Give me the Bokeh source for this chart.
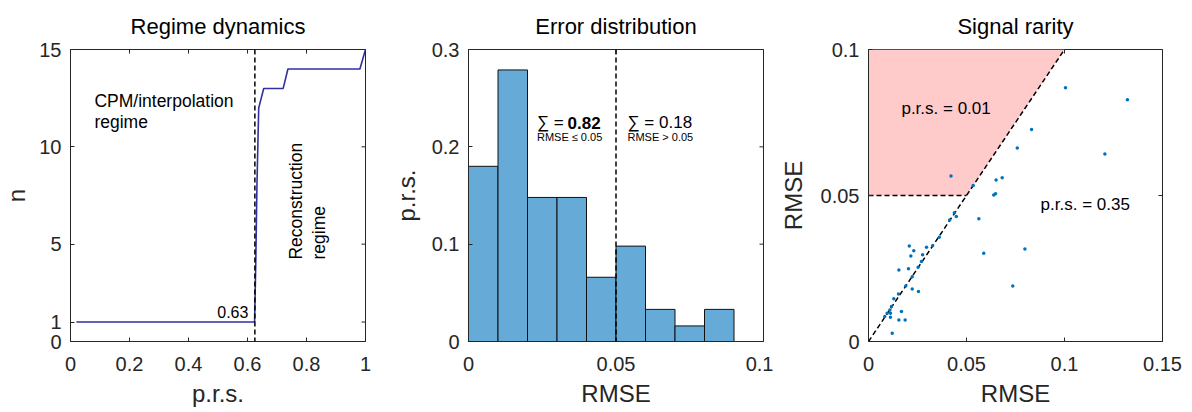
import numpy as np
from bokeh.plotting import figure
from bokeh.models import Range1d, FixedTicker, Label, Span
from bokeh.layouts import row
from bokeh.embed import file_html
from bokeh.resources import INLINE

# ---------------- data ----------------
# Panel 1: regime dynamics
prs_curve = [0.02, 0.624, 0.628, 0.632, 0.638, 0.655, 0.721, 0.737, 0.981, 1.0]
n_curve = [1, 1, 4, 8, 12, 13, 13, 14, 14, 15]
prs_threshold = 0.625
p1_xticks = [0, 0.2, 0.4, 0.6, 0.8, 1]
p1_yticks = [0, 1, 5, 10, 15]

# Panel 2: error distribution
bin_edges = [0.0, 0.01, 0.02, 0.03, 0.04, 0.05, 0.06, 0.07, 0.08, 0.09]
bin_prs = [0.180, 0.279, 0.148, 0.148, 0.066, 0.098, 0.033, 0.016, 0.033]
rmse_threshold = 0.05
p2_xticks = [0, 0.05, 0.1]
p2_yticks = [0, 0.1, 0.2, 0.3]

# Panel 3: signal rarity
rmse_x = [0.1005, 0.1321, 0.0832, 0.0759, 0.1206, 0.0421, 0.0682, 0.0651, 0.0534,
          0.0648, 0.0639, 0.0438, 0.0448, 0.0414, 0.0563, 0.0588, 0.0798, 0.0736,
          0.0361, 0.0327, 0.0296, 0.0208, 0.0231, 0.0216, 0.0276, 0.0270, 0.0253,
          0.0204, 0.0155, 0.0223, 0.0190, 0.0223, 0.0255, 0.0153, 0.0129, 0.0168,
          0.0117, 0.0109, 0.0095, 0.0083, 0.0112, 0.0112, 0.0155, 0.0187, 0.0121]
rmse_y = [0.0869, 0.0828, 0.0726, 0.0663, 0.0642, 0.0567, 0.0561, 0.0553, 0.0534,
          0.0506, 0.0502, 0.0441, 0.0428, 0.0416, 0.0420, 0.0302, 0.0317, 0.0190,
          0.0357, 0.0328, 0.0323, 0.0327, 0.0311, 0.0293, 0.0297, 0.0274, 0.0254,
          0.0249, 0.0245, 0.0222, 0.0190, 0.0180, 0.0171, 0.0163, 0.0146, 0.0103,
          0.0120, 0.0108, 0.0097, 0.0086, 0.0097, 0.0083, 0.0074, 0.0074, 0.0028]
region_x = [0.0, 0.05, 0.1, 0.0]
region_y = [0.05, 0.05, 0.1, 0.1]
diag_x = [0.0, 0.1]
diag_y = [0.0, 0.1]
p3_xticks = [0, 0.05, 0.1, 0.15]
p3_yticks = [0, 0.05, 0.1]

FONT = "Liberation Sans"
AX_COLOR = "#262626"


def fmt(v):
    return f"{v:g}"


def make_fig(xr, yr, xticks, yticks, title, xlabel, ylabel, fw, bl, br,
             ylab_standoff, valign, tstand):
    p = figure(frame_width=fw, frame_height=292,
               x_range=Range1d(*xr), y_range=Range1d(*yr),
               output_backend="svg", toolbar_location=None,
               min_border_left=bl, min_border_right=br,
               min_border_top=48, min_border_bottom=64)
    p.title.text = title
    p.title.align = "center"
    p.title.vertical_align = valign
    p.title.text_font = FONT
    p.title.text_font_size = "22px"
    p.title.text_font_style = "normal"
    p.title.text_color = "#000000"
    p.title.standoff = tstand
    p.xgrid.visible = False
    p.ygrid.visible = False
    p.outline_line_color = AX_COLOR
    p.outline_line_width = 1
    p.background_fill_color = "white"
    p.border_fill_color = "white"

    p.xaxis.ticker = FixedTicker(ticks=xticks)
    p.yaxis.ticker = FixedTicker(ticks=yticks)
    p.xaxis.major_label_overrides = {v: fmt(v) for v in xticks}
    p.yaxis.major_label_overrides = {v: fmt(v) for v in yticks}
    p.xaxis.axis_label = xlabel
    p.yaxis.axis_label = ylabel
    for ax in (p.xaxis[0], p.yaxis[0]):
        ax.major_tick_in = 4
        ax.major_tick_out = 0
        ax.minor_tick_line_color = None
        ax.axis_line_color = AX_COLOR
        ax.major_tick_line_color = AX_COLOR
        ax.major_label_text_font = FONT
        ax.major_label_text_font_size = "20px"
        ax.major_label_text_color = AX_COLOR
        ax.axis_label_text_font = FONT
        ax.axis_label_text_font_size = "24px"
        ax.axis_label_text_font_style = "normal"
        ax.axis_label_text_color = AX_COLOR
    p.xaxis.major_label_standoff = 15
    p.xaxis.axis_label_standoff = 6
    p.yaxis.major_label_standoff = 9
    p.yaxis.axis_label_standoff = ylab_standoff

    # mirrored inward ticks on top and right edges (box on)
    p.scatter(xticks, [yr[1]] * len(xticks), marker="dash", angle=np.pi / 2,
              size=8, line_color=AX_COLOR, line_width=1)
    p.scatter([xr[1]] * len(yticks), yticks, marker="dash",
              size=8, line_color=AX_COLOR, line_width=1)
    return p


def add_text(p, x, y, text, size="17px", style="normal", angle=0.0):
    p.add_layout(Label(x=x, y=y, text=text, angle=angle,
                       text_align="left", text_baseline="middle",
                       text_font=FONT, text_font_size=size,
                       text_font_style=style, text_color="black"))


# ---------------- panel 1 ----------------
p1 = make_fig((0, 1), (0, 15), p1_xticks, p1_yticks, "Regime dynamics",
              "p.r.s.", "n", 295, 70, 23, 6, "top", 18)
p1.line(prs_curve, n_curve, line_color="#3030a0", line_width=1.6)
p1.add_layout(Span(location=prs_threshold, dimension="height",
                   line_color="black", line_dash="5 3", line_width=1.5))
p1.add_layout(Label(x=0.603, y=1.54, text="0.63",
                    text_align="right", text_baseline="middle",
                    text_font=FONT, text_font_size="16px", text_color="black"))
add_text(p1, 0.081, 12.37, "CPM/interpolation", size="17.5px")
add_text(p1, 0.081, 11.29, "regime", size="17.5px")
add_text(p1, 0.766, 4.21, "Reconstruction", size="17.5px", angle=np.pi / 2)
add_text(p1, 0.841, 4.21, "regime", size="17.5px", angle=np.pi / 2)

# ---------------- panel 2 ----------------
p2 = make_fig((0, 0.1), (0, 0.3), p2_xticks, p2_yticks, "Error distribution",
              "RMSE", "p.r.s.", 295, 80, 10, 9, "bottom", 22)
p2.quad(left=bin_edges[:-1], right=[e + 0.01 for e in bin_edges[:-1]],
        bottom=0, top=bin_prs, fill_color="#66aad7", line_color="#111111",
        line_width=1)
p2.add_layout(Span(location=rmse_threshold, dimension="height",
                   line_color="black", line_dash="5 3", line_width=1.5))
low_sum = sum(v for v, e in zip(bin_prs, bin_edges) if e < rmse_threshold)
high_sum = sum(v for v, e in zip(bin_prs, bin_edges) if e >= rmse_threshold)
add_text(p2, 0.0232, 0.2248, "∑ =")
add_text(p2, 0.0336, 0.2248, f"{low_sum:.2f}", style="bold")
add_text(p2, 0.0232, 0.2104, "RMSE ≤ 0.05", size="11px")
add_text(p2, 0.0539, 0.2248, f"∑ = {high_sum:.2f}")
add_text(p2, 0.0539, 0.2104, "RMSE > 0.05", size="11px")

# ---------------- panel 3 ----------------
p3 = make_fig((0, 0.15), (0, 0.1), p3_xticks, p3_yticks, "Signal rarity",
              "RMSE", "RMSE", 294, 95, 22, 11, "top", 18)
p3.patch(region_x, region_y, fill_color="#ffcaca", line_color=None)
p3.line(diag_x, diag_y, line_color="black", line_dash="5 3", line_width=1.5)
p3.line([0, rmse_threshold], [rmse_threshold, rmse_threshold],
        line_color="black", line_dash="5 3", line_width=1.5)
p3.scatter(rmse_x, rmse_y, size=3.5, color="#0072bd", line_color=None)
add_text(p3, 0.0168, 0.0797, "p.r.s. = 0.01")
add_text(p3, 0.0878, 0.0469, "p.r.s. = 0.35")

layout = row(p1, p2, p3)
open("out.html", "w").write(file_html(layout, INLINE))
